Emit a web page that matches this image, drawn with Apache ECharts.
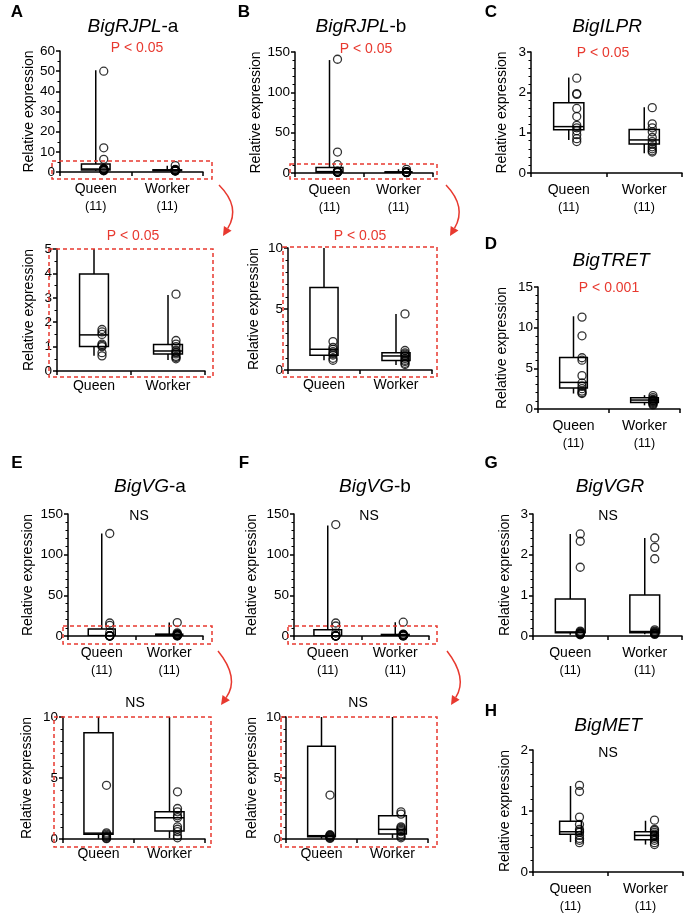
<!DOCTYPE html>
<html><head><meta charset="utf-8">
<script src="https://cdn.jsdelivr.net/npm/echarts@6/dist/echarts.min.js"></script>
<style>html,body{margin:0;padding:0;background:#fff}#c{width:685px;height:915px}</style>
</head><body><div id="c"></div>
<script>
const FONT = '"Liberation Sans", Arial, Helvetica, sans-serif';
const RED = '#e8392f';

// ---------------- data ----------------
const categories = ['Queen', 'Worker'];
const sampleSizes = ['(11)', '(11)'];

// box stats: [min, Q1, median, Q3, max] for Queen, Worker
const rjplA_queen  = [0.62, 0.75, 1.0, 1.05, 1.1, 1.5, 1.6, 1.7, 6.3, 12, 50];
const rjplA_worker = [0.5, 0.55, 0.6, 0.7, 0.75, 0.78, 0.85, 1.0, 1.1, 1.25, 3.15];
const rjplA_box    = [[0.62, 1.0, 1.48, 3.98, 50.5], [0.45, 0.7, 0.82, 1.09, 3.11]];

const rjplB_queen  = [0.8, 0.96, 1.23, 1.35, 1.5, 1.7, 1.86, 2.33, 10.3, 26, 141];
const rjplB_worker = [0.45, 0.55, 0.7, 0.8, 0.95, 1.1, 1.2, 1.3, 1.4, 1.6, 4.6];
const rjplB_box    = [[0.8, 1.2, 1.7, 6.77, 140], [0.41, 0.77, 1.15, 1.42, 4.6]];

const ilpr_queen   = [0.78, 0.85, 0.95, 1.05, 1.12, 1.18, 1.4, 1.6, 1.95, 1.97, 2.35];
const ilpr_worker  = [0.52, 0.55, 0.6, 0.65, 0.72, 0.78, 0.88, 1.02, 1.12, 1.22, 1.62];
const ilpr_box     = [[0.82, 1.07, 1.15, 1.74, 2.37], [0.49, 0.72, 0.82, 1.08, 1.63]];

const tret_queen   = [1.9, 2.0, 2.2, 2.5, 2.8, 3.2, 4.1, 6.0, 6.3, 9.0, 11.3];
const tret_worker  = [0.5, 0.6, 0.7, 0.8, 0.9, 1.0, 1.05, 1.1, 1.2, 1.4, 1.65];
const tret_box     = [[1.9, 2.57, 3.27, 6.33, 11.4], [0.45, 0.8, 1.1, 1.37, 1.7]];

const vgA_queen    = [0.03, 0.08, 0.15, 0.2, 0.3, 0.4, 0.5, 4.4, 13, 16, 126];
const vgA_worker   = [0.1, 0.27, 0.6, 0.8, 1.0, 1.75, 1.9, 2.23, 2.5, 3.87, 16.5];
const vgA_box      = [[0.02, 0.38, 0.48, 8.7, 126], [0.08, 0.65, 1.74, 2.23, 16.5]];

const vgB_queen    = [0.05, 0.1, 0.15, 0.2, 0.25, 0.3, 0.35, 3.6, 12.3, 16, 137];
const vgB_worker   = [0.1, 0.2, 0.4, 0.6, 0.7, 0.8, 0.9, 1.0, 2.04, 2.23, 17];
const vgB_box      = [[0.03, 0.19, 0.27, 7.6, 136], [0.08, 0.41, 0.79, 1.91, 17]];

const vgr_queen    = [0.03, 0.04, 0.05, 0.06, 0.07, 0.08, 0.1, 0.12, 1.69, 2.33, 2.51];
const vgr_worker   = [0.04, 0.05, 0.06, 0.07, 0.08, 0.1, 0.12, 0.15, 1.9, 2.18, 2.41];
const vgr_box      = [[0.03, 0.08, 0.1, 0.91, 2.51], [0.04, 0.08, 0.11, 1.01, 2.41]];

const met_queen    = [0.48, 0.52, 0.55, 0.6, 0.65, 0.67, 0.7, 0.78, 0.9, 1.32, 1.42];
const met_worker   = [0.45, 0.48, 0.52, 0.55, 0.58, 0.6, 0.62, 0.65, 0.68, 0.7, 0.85];
const met_box      = [[0.49, 0.62, 0.66, 0.83, 1.41], [0.45, 0.53, 0.6, 0.66, 0.84]];

// ---------------- layout ----------------
const panels = [
  {grid:[60,51,143,121],  max:60,  interval:10, minor:2, q:rjplA_queen, w:rjplA_worker, box:rjplA_box, n:true,  gap:23, bw:0.40, off:8},
  {grid:[57,249,148,122], max:5,   interval:1,  minor:2, q:rjplA_queen, w:rjplA_worker, box:rjplA_box, n:false, gap:21, bw:0.39, off:8},
  {grid:[295,52,138,121], max:150, interval:50, minor:5, q:rjplB_queen, w:rjplB_worker, box:rjplB_box, n:true,  gap:32, bw:0.39, off:8},
  {grid:[288,248,144,122],max:10,  interval:5,  minor:5, q:rjplB_queen, w:rjplB_worker, box:rjplB_box, n:false, gap:27, bw:0.39, off:9},
  {grid:[531,52,151,121], max:3,   interval:1,  minor:5, q:ilpr_queen,  w:ilpr_worker,  box:ilpr_box,  n:true,  gap:22, bw:0.40, off:8},
  {grid:[538,287,142,122],max:15,  interval:5,  minor:5, q:tret_queen,  w:tret_worker,  box:tret_box,  n:true,  gap:29, bw:0.39, off:8.5},
  {grid:[68,514,135,122], max:150, interval:50, minor:5, q:vgA_queen,   w:vgA_worker,   box:vgA_box,   n:true,  gap:33, bw:0.40, off:8},
  {grid:[63,717,142,122], max:10,  interval:5,  minor:5, q:vgA_queen,   w:vgA_worker,   box:vgA_box,   n:false, gap:29, bw:0.41, off:8},
  {grid:[294,514,135,122],max:150, interval:50, minor:5, q:vgB_queen,   w:vgB_worker,   box:vgB_box,   n:true,  gap:35, bw:0.41, off:8},
  {grid:[286,717,142,122],max:10,  interval:5,  minor:5, q:vgB_queen,   w:vgB_worker,   box:vgB_box,   n:false, gap:27, bw:0.39, off:8.5},
  {grid:[533,514,149,122],max:3,   interval:1,  minor:5, q:vgr_queen,   w:vgr_worker,   box:vgr_box,   n:true,  gap:21, bw:0.40, off:10},
  {grid:[533,750,150,122],max:2,   interval:1,  minor:5, q:met_queen,   w:met_worker,   box:met_box,   n:true,  gap:21, bw:0.29, off:9}
];

function makeBox(ratio) {
  return function (params, api) {
    const x = api.value(0);
    const lo = api.coord([x, api.value(1)]);
    const q1 = api.coord([x, api.value(2)]);
    const md = api.coord([x, api.value(3)]);
    const q3 = api.coord([x, api.value(4)]);
    const hi = api.coord([x, api.value(5)]);
    const bw = api.size([1, 0])[0] * ratio;
    const cx = lo[0];
    const st = {stroke:'#000', lineWidth:1.5, fill:null};
    return {type:'group', children:[
      {type:'line', shape:{x1:cx, y1:lo[1], x2:cx, y2:q1[1]}, style:st},
      {type:'line', shape:{x1:cx, y1:q3[1], x2:cx, y2:hi[1]}, style:st},
      {type:'rect', shape:{x:cx-bw/2, y:q3[1], width:bw, height:q1[1]-q3[1]}, style:{stroke:'#000', lineWidth:1.5, fill:'#fff'}},
      {type:'line', shape:{x1:cx-bw/2, y1:md[1], x2:cx+bw/2, y2:md[1]}, style:st}
    ]};
  };
}

const grids = [], xAxes = [], yAxes = [], series = [];
panels.forEach((p, i) => {
  grids.push({left:p.grid[0], top:p.grid[1], width:p.grid[2], height:p.grid[3], containLabel:false, outerBoundsMode:'none'});
  xAxes.push({
    gridIndex:i, type:'category', data:categories, boundaryGap:true,
    axisLine:{show:true, onZero:true, lineStyle:{color:'#000', width:1.5}},
    axisTick:{show:true, length:4, lineStyle:{color:'#000', width:1.5}},
    axisLabel:{
      margin: p.n ? 9 : 7, interval:0,
      formatter: (v, k) => p.n ? '{a|' + v + '}\n{b|' + sampleSizes[k] + '}' : '{a|' + v + '}',
      rich:{
        a:{fontSize:14, lineHeight:17, fontFamily:FONT, color:'#000'},
        b:{fontSize:12.5, lineHeight:17, fontFamily:FONT, color:'#000'}
      }
    },
    splitLine:{show:false}
  });
  yAxes.push({
    gridIndex:i, type:'value', min:0, max:p.max, interval:p.interval,
    name:'Relative expression', nameLocation:'middle', nameGap:p.gap,
    nameTextStyle:{fontSize:14, fontFamily:FONT, color:'#000'},
    axisLine:{show:true, lineStyle:{color:'#000', width:1.5}},
    axisTick:{show:true, length:4, lineStyle:{color:'#000', width:1.5}},
    minorTick:{show:true, splitNumber:p.minor, length:2.5, lineStyle:{color:'#000', width:1}},
    axisLabel:{margin:5, fontSize:13.5, fontFamily:FONT, color:'#000'},
    splitLine:{show:false}, minorSplitLine:{show:false}
  });
  series.push({
    type:'custom', xAxisIndex:i, yAxisIndex:i, clip:true, silent:true, z:2,
    renderItem: makeBox(p.bw),
    data: p.box.map((b, k) => [k].concat(b)),
    encode:{x:0, y:[1,2,3,4,5]}
  });
  series.push({
    type:'scatter', xAxisIndex:i, yAxisIndex:i, clip:true, silent:true, z:3,
    symbol:'circle', symbolSize:8, symbolOffset:[p.off, 0],
    itemStyle:{color:'rgba(0,0,0,0)', borderColor:'#000', borderWidth:1.3},
    data: p.q.map(v => [0, v]).concat(p.w.map(v => [1, v]))
  });
});

// ---------------- annotations ----------------
const g = [];
function txt(x, y, text, opts) {
  g.push({type:'text', x:x, y:y, silent:true, z:10,
    style:Object.assign({text:text, align:'center', verticalAlign:'middle', fontFamily:FONT, fontSize:14, fill:'#000'}, opts || {})});
}
const letters = [['A',17,12],['B',244,12],['C',491,12],['D',491,244],['E',17,463],['F',244,463],['G',491,463],['H',491,711]];
letters.forEach(l => txt(l[1], l[2], l[0], {fontSize:17, fontWeight:'bold'}));

const titleRich = {
  i:{fontStyle:'italic', fontSize:19, fontFamily:FONT, fill:'#000'},
  n:{fontSize:19, fontFamily:FONT, fill:'#000'}
};
const titles = [
  ['{i|BigRJPL}{n|-a}',133,27], ['{i|BigRJPL}{n|-b}',361,27], ['{i|BigILPR}',607,27], ['{i|BigTRET}',611,261],
  ['{i|BigVG}{n|-a}',150,487], ['{i|BigVG}{n|-b}',375,487], ['{i|BigVGR}',610,487], ['{i|BigMET}',608,726]
];
titles.forEach(t => txt(t[1], t[2], t[0], {rich:titleRich, fontSize:19}));

const pTexts = [
  ['P < 0.05',137,48,RED], ['P < 0.05',133,236,RED], ['P < 0.05',366,49,RED], ['P < 0.05',360,236,RED],
  ['P < 0.05',603,53,RED], ['P < 0.001',609,288,RED],
  ['NS',139,516,'#000'], ['NS',135,703,'#000'], ['NS',369,516,'#000'], ['NS',358,703,'#000'],
  ['NS',608,516,'#000'], ['NS',608,753,'#000']
];
pTexts.forEach(t => txt(t[1], t[2], t[0], {fill:t[3]}));

const dashRects = [
  [52,161,212,179], [49,249,213,377], [290,164,437,179], [283,247,437,377],
  [63,626,212,644], [54,717,211,847], [288,626,437,644], [281,717,437,847]
];
dashRects.forEach(r => g.push({type:'rect', silent:true, z:9,
  shape:{x:r[0], y:r[1], width:r[2]-r[0], height:r[3]-r[1]},
  style:{fill:null, stroke:RED, lineWidth:1.5, lineDash:[4,3]}}));

function arrow(x0, y0, cx, cy, x1, y1) {
  const ang = Math.atan2(y1 - cy, x1 - cx);
  const L = 9, W = 4.5;
  const bx = x1 - L * Math.cos(ang), by = y1 - L * Math.sin(ang);
  const px = -Math.sin(ang) * W, py = Math.cos(ang) * W;
  g.push({type:'bezierCurve', silent:true, z:9,
    shape:{x1:x0, y1:y0, x2:bx, y2:by, cpx1:cx, cpy1:cy},
    style:{fill:null, stroke:RED, lineWidth:1.5}});
  g.push({type:'polygon', silent:true, z:9,
    shape:{points:[[x1, y1], [bx + px, by + py], [bx - px, by - py]]},
    style:{fill:RED}});
}
arrow(219,185, 241,207, 223,236);
arrow(446,185, 467,207, 450,236);
arrow(218,651, 240,678, 221,705);
arrow(447,651, 468,678, 451,705);

const chart = echarts.init(document.getElementById('c'), null, {renderer:'canvas'});
chart.setOption({
  animation:false,
  backgroundColor:'#fff',
  grid:grids, xAxis:xAxes, yAxis:yAxes, series:series,
  graphic:g
});
</script></body></html>
